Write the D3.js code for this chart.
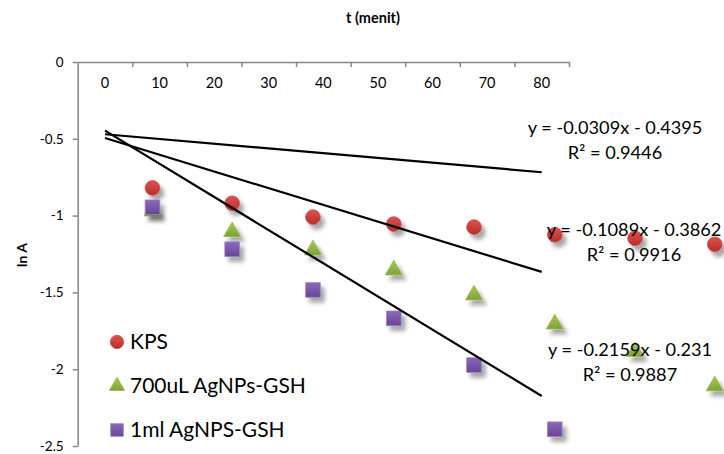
<!DOCTYPE html>
<html>
<head>
<meta charset="utf-8">
<script src="https://cdn.jsdelivr.net/npm/d3@7/dist/d3.min.js"></script>
<style>
  body { margin: 0; background: #fff; }
  svg { display: block; font-family: Lato, "Open Sans", sans-serif; }
</style>
</head>
<body>
<div id="chart"></div>
<script>
// tick labels of the category axis (t, minutes)
var xCategories = [0, 10, 20, 30, 40, 50, 60, 70, 80];
var yTicks = [0, -0.5, -1, -1.5, -2, -2.5];

// scatter points (t, ln A)
var tValues = [8.7, 23.3, 38.1, 52.9, 67.6, 82.4, 97.1, 111.7];
var kps = [-0.82, -0.92, -1.01, -1.055, -1.075, -1.125, -1.148, -1.187];
var agnps700 = [-0.97, -1.105, -1.224, -1.354, -1.517, -1.706, -1.886, -2.109];
var agnps1ml = [-0.946, -1.219, -1.484, -1.669, -1.973, -2.391];

var seriesNames = ["KPS", "700uL AgNPs-GSH", "1ml AgNPS-GSH"];

// linear trendlines (x = category index 1..9)
var slopes = [-0.0309, -0.1089, -0.2159];
var intercepts = [-0.4395, -0.3862, -0.231];
var r2 = ["0.9446", "0.9916", "0.9887"];

var width = 724, height = 454;

var svg = d3.select("#chart").append("svg")
    .attr("width", width)
    .attr("height", height);

var defs = svg.append("defs");
var shadow = defs.append("filter")
    .attr("id", "shadow")
    .attr("x", "-50%").attr("y", "-50%")
    .attr("width", "220%").attr("height", "220%");
shadow.append("feDropShadow")
    .attr("dx", 4).attr("dy", 5)
    .attr("stdDeviation", 2.2)
    .attr("flood-color", "#000")
    .attr("flood-opacity", 0.35);

function gradient(id, light, dark) {
    var g = defs.append("linearGradient")
        .attr("id", id)
        .attr("x1", 0).attr("y1", 0).attr("x2", 0).attr("y2", 1);
    g.append("stop").attr("offset", "0%").attr("stop-color", light);
    g.append("stop").attr("offset", "100%").attr("stop-color", dark);
}
gradient("gRed", "#e0504c", "#b82f2c");
gradient("gGreen", "#a6c858", "#7ea334");
gradient("gPurple", "#8a68b8", "#6a4596");

// x: value axis in t units, categories are 10 wide
var x = d3.scaleLinear()
    .domain([-5, 85])
    .range([77.7, 569]);

var y = d3.scaleLinear()
    .domain([-2.5, 0])
    .range([446, 62]);

var axisColor = "#868686";

// X axis (at y = 0, labels below)
var xAxis = svg.append("g")
    .attr("transform", "translate(0," + y(0) + ")")
    .call(d3.axisBottom(x)
        .tickValues(d3.range(5, 86, 10))
        .tickFormat("")
        .tickSize(5)
        .tickSizeOuter(0));
xAxis.select(".domain").attr("stroke", axisColor).attr("stroke-width", 1.5);
xAxis.selectAll(".tick line").attr("stroke", axisColor).attr("stroke-width", 1.5);

svg.append("g").selectAll("text")
    .data(xCategories)
    .enter().append("text")
    .attr("x", function(d) { return x(d); })
    .attr("y", 88)
    .attr("text-anchor", "middle")
    .attr("font-size", 14.5)
    .attr("fill", "#000")
    .text(function(d) { return d; });

// Y axis
var yAxis = svg.append("g")
    .attr("transform", "translate(" + x(-5) + ",0)")
    .call(d3.axisLeft(y)
        .tickValues(yTicks)
        .tickFormat(function(d) { return d; })
        .tickSize(5)
        .tickSizeOuter(0));
yAxis.select(".domain").attr("stroke", axisColor).attr("stroke-width", 1.5);
yAxis.selectAll(".tick line").attr("stroke", axisColor).attr("stroke-width", 1.5);
yAxis.selectAll(".tick text")
    .attr("x", -14)
    .attr("font-size", 13.5)
    .attr("font-family", "Lato, sans-serif")
    .attr("fill", "#000");

// axis titles
svg.append("text")
    .attr("x", 373)
    .attr("y", 23)
    .attr("text-anchor", "middle")
    .attr("font-size", 14.5)
    .attr("font-weight", "bold")
    .text("t (menit)");

svg.append("text")
    .attr("transform", "translate(27,255) rotate(-90)")
    .attr("text-anchor", "middle")
    .attr("font-size", 14)
    .attr("font-weight", "bold")
    .text("ln A");

// markers
var circle = d3.symbol().type(d3.symbolCircle).size(170);
var triangle = d3.symbol().type(d3.symbolTriangle).size(125);
var square = d3.symbol().type(d3.symbolSquare).size(215);

var series = [
    {values: kps, symbol: circle, fill: "url(#gRed)", stroke: "#c94a47"},
    {values: agnps700, symbol: triangle, fill: "url(#gGreen)", stroke: "#93b94b"},
    {values: agnps1ml, symbol: square, fill: "url(#gPurple)", stroke: "#9a80c0"}
];

var marks = svg.append("g");
series.forEach(function(s) {
    marks.append("g").selectAll("path")
        .data(s.values)
        .enter().append("path")
        .attr("d", s.symbol)
        .attr("transform", function(d, i) {
            return "translate(" + x(tValues[i]) + "," + y(d) + ")";
        })
        .attr("fill", s.fill)
        .attr("stroke", s.stroke)
        .attr("stroke-width", 0.8)
        .attr("filter", "url(#shadow)");
});

// trendlines from t = 0 to t = 80 (category index 1 to 9)
var trend = svg.append("g");
slopes.forEach(function(m, i) {
    var t0 = xCategories[0], t1 = xCategories[xCategories.length - 1];
    trend.append("line")
        .attr("x1", x(t0))
        .attr("y1", y(m * (t0 / 10 + 1) + intercepts[i]))
        .attr("x2", x(t1))
        .attr("y2", y(m * (t1 / 10 + 1) + intercepts[i]))
        .attr("stroke", "#000")
        .attr("stroke-width", 2.2);
});

// trendline labels
var labelPos = [
    {x: 615, y: 134},
    {x: 634, y: 236},
    {x: 630, y: 356}
];
slopes.forEach(function(m, i) {
    var g = svg.append("text")
        .attr("text-anchor", "middle")
        .attr("font-size", 18.2)
        .attr("fill", "#000");
    g.append("tspan")
        .attr("x", labelPos[i].x)
        .attr("y", labelPos[i].y)
        .text("y = " + m + "x - " + Math.abs(intercepts[i]));
    g.append("tspan")
        .attr("x", labelPos[i].x)
        .attr("y", labelPos[i].y + 25)
        .text("R\u00b2 = " + r2[i]);
});

// legend
var legend = svg.append("g")
    .attr("transform", "translate(117,342)");
var legendSymbols = [
    d3.symbol().type(d3.symbolCircle).size(140),
    d3.symbol().type(d3.symbolTriangle).size(100),
    d3.symbol().type(d3.symbolSquare).size(160)
];
seriesNames.forEach(function(name, i) {
    var row = legend.append("g")
        .attr("transform", "translate(0," + (i * 44) + ")");
    row.append("path")
        .attr("d", legendSymbols[i])
        .attr("fill", series[i].fill)
        .attr("stroke", series[i].stroke)
        .attr("stroke-width", 0.8);
    row.append("text")
        .attr("x", 13)
        .attr("y", 7)
        .attr("font-size", 21)
        .attr("fill", "#000")
        .text(name);
});
</script>
</body>
</html>
